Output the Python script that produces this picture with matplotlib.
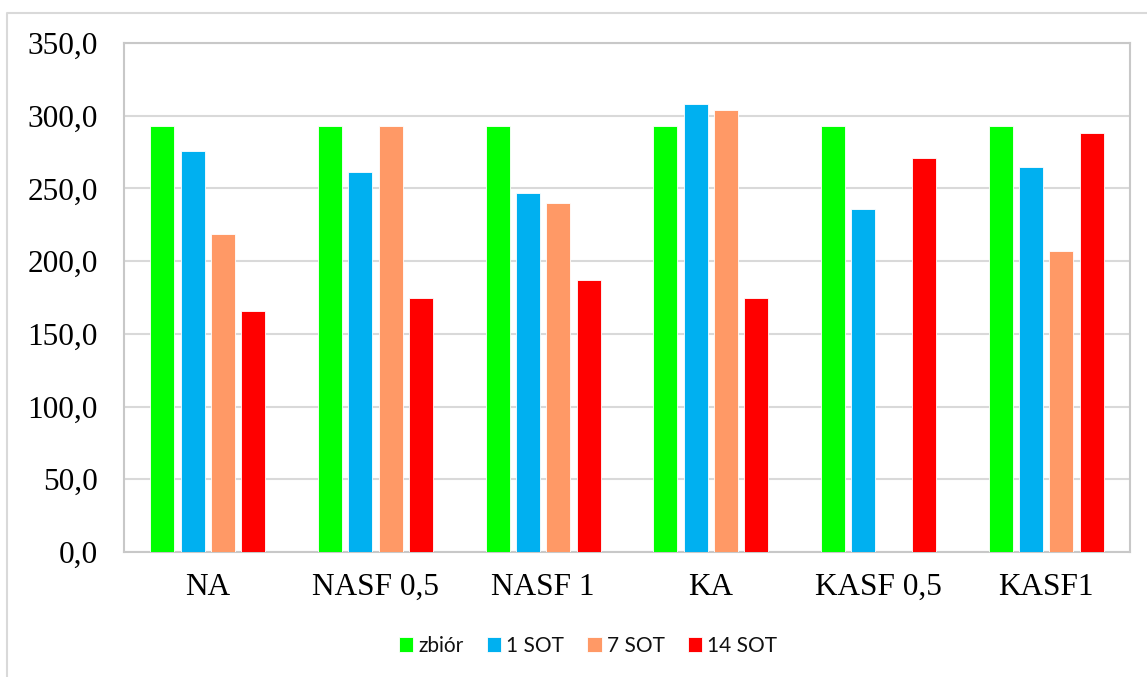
import matplotlib
matplotlib.use("Agg")
import matplotlib.pyplot as plt
from matplotlib.lines import Line2D
import numpy as np

# Data
categories = ["NA", "NASF 0,5", "NASF 1", "KA", "KASF 0,5", "KASF1"]
series_names = ["zbiór", "1 SOT", "7 SOT", "14 SOT"]
zbior = [293, 293, 293, 293, 293, 293]
sot_1 = [276, 261, 247, 308, 236, 264.5]
sot_7 = [219, 293, 240, 304, 0, 207]
sot_14 = [166, 174.5, 187, 174.5, 271, 288]
y_ticks = [0, 50, 100, 150, 200, 250, 300, 350]
y_tick_labels = ["0,0", "50,0", "100,0", "150,0", "200,0", "250,0", "300,0", "350,0"]

colors = ["#00FF00", "#00B0F0", "#FF9966", "#FF0000"]

W, H = 1147, 677
fig = plt.figure(figsize=(W / 100, H / 100), dpi=100)

left, right, top, bottom = 124, 1130, 43, 552
ax = fig.add_axes([left / W, 1 - bottom / H, (right - left) / W, (bottom - top) / H])

x = np.arange(len(categories))
slot = 0.181
width = 0.143
all_series = [zbior, sot_1, sot_7, sot_14]
handles = []
for i, (vals, col, name) in enumerate(zip(all_series, colors, series_names)):
    bars = ax.bar(x + (i - 1.5) * slot, vals, width, color=col,
                  edgecolor="white", linewidth=0.6, label=name, zorder=3)
    handles.append(bars)

ax.set_xlim(-0.5, len(categories) - 0.5)
ax.set_ylim(0, 350)
ax.set_yticks(y_ticks)
ax.set_yticklabels(y_tick_labels)
ax.set_xticks(x)
ax.set_xticklabels(categories)

serif = "Liberation Serif"
for lab in ax.get_yticklabels() + ax.get_xticklabels():
    lab.set_fontfamily(serif)
    lab.set_fontsize(22.5)
    lab.set_color("black")

ax.tick_params(axis="both", length=0)
ax.tick_params(axis="y", pad=19)
ax.tick_params(axis="x", pad=15)

ax.grid(axis="y", color="#d9d9d9", linewidth=1.5, zorder=0)
ax.set_axisbelow(True)
for s in ax.spines.values():
    s.set_color("#c8c8c8")
    s.set_linewidth(1.5)

# Outer chart-area border (left and top edges)
fig.add_artist(Line2D([7 / W, 7 / W, 1.0], [0.0, 1 - 13 / H, 1 - 13 / H],
                      transform=fig.transFigure, color="#d9d9d9", linewidth=1.5))

leg = fig.legend(handles=handles, labels=series_names, loc="center",
                 bbox_to_anchor=(588 / W, 1 - 646 / H), ncol=4, frameon=False,
                 prop={"family": "Lato", "size": 15}, handlelength=0.7,
                 handleheight=0.7, handletextpad=0.25, columnspacing=1.1)
for t in leg.get_texts():
    t.set_color("#111111")

fig.savefig("out.png", dpi=100, facecolor="white")
